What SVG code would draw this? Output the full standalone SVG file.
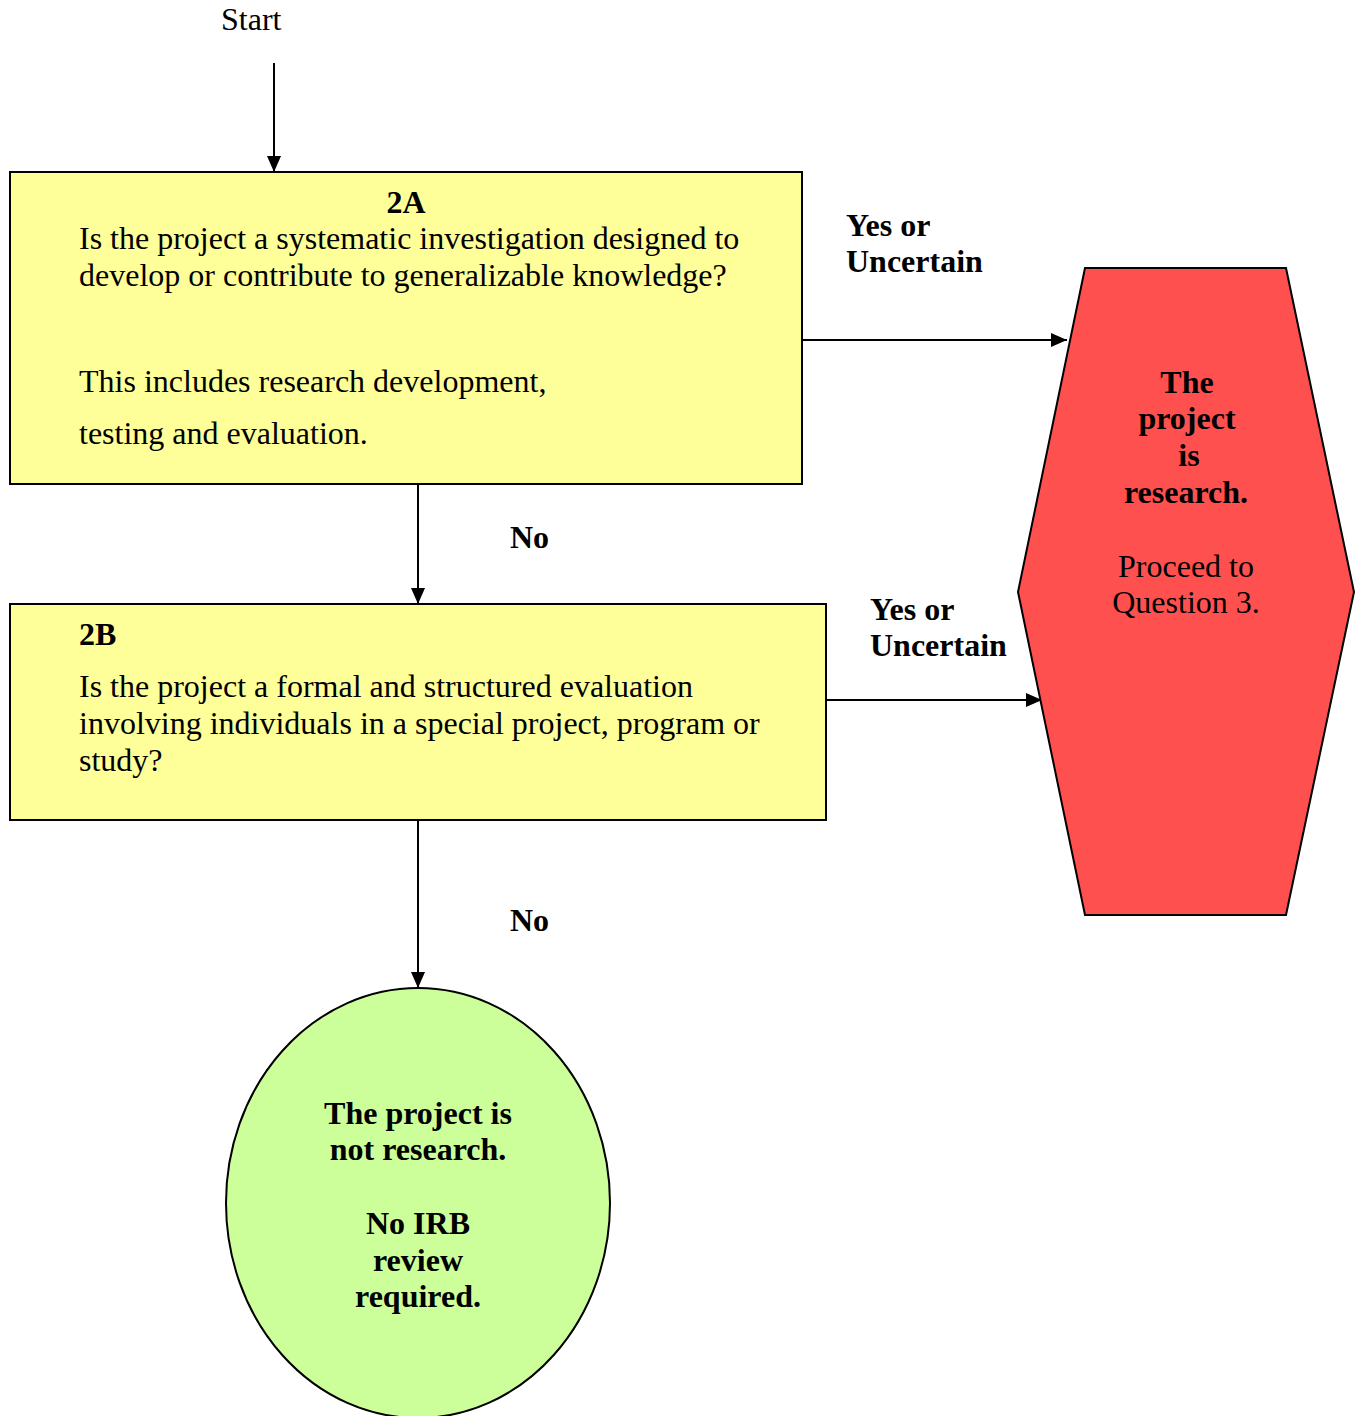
<svg xmlns="http://www.w3.org/2000/svg" width="1359" height="1416" viewBox="0 0 1359 1416">
<style>
text{font-family:"Liberation Serif","Times New Roman",serif;font-size:32px;fill:#000}
.b{font-weight:bold}
.m{text-anchor:middle}
.shape{stroke:#000;stroke-width:2}
.edge{stroke:#000;stroke-width:2;fill:none;marker-end:url(#ah)}
</style>
<defs>
<marker id="ah" markerUnits="userSpaceOnUse" markerWidth="16" markerHeight="14" refX="16" refY="7" orient="auto">
<path d="M0,0 L16,7 L0,14 Z" fill="#000"/>
</marker>
</defs>
<rect width="1359" height="1416" fill="#fff"/>
<g id="connectors">
<line class="edge" x1="274" y1="63" x2="274" y2="172"/>
<line class="edge" x1="802" y1="340" x2="1067" y2="340"/>
<line class="edge" x1="418" y1="484" x2="418" y2="604"/>
<line class="edge" x1="826" y1="700" x2="1042" y2="700"/>
<line class="edge" x1="418" y1="820" x2="418" y2="988"/>
</g>
<g id="labels">
<text x="221" y="30">Start</text>
<text class="b" x="846" y="236">Yes or</text>
<text class="b" x="846" y="272">Uncertain</text>
<text class="b" x="510" y="548">No</text>
<text class="b" x="870" y="620">Yes or</text>
<text class="b" x="870" y="656">Uncertain</text>
<text class="b" x="510" y="931">No</text>
</g>
<g id="node-2A">
<rect class="shape" x="10" y="172" width="792" height="312" fill="#FFFF99"/>
<text class="b m" x="406" y="213">2A</text>
<text x="79" y="249">Is the project a systematic investigation designed to</text>
<text x="79" y="286">develop or contribute to generalizable knowledge?</text>
<text x="79" y="392">This includes research development,</text>
<text x="79" y="444">testing and evaluation.</text>
</g>
<g id="node-2B">
<rect class="shape" x="10" y="604" width="816" height="216" fill="#FFFF99"/>
<text class="b" x="79" y="645">2B</text>
<text x="79" y="697">Is the project a formal and structured evaluation</text>
<text x="79" y="734">involving individuals in a special project, program or</text>
<text x="79" y="771">study?</text>
</g>
<g id="node-research">
<polygon class="shape" points="1085,268 1286,268 1354,592 1286,915 1085,915 1018,592" fill="#FF5050"/>
<text class="b m" x="1187" y="393">The</text>
<text class="b m" x="1187" y="429">project</text>
<text class="b m" x="1189" y="466">is</text>
<text class="b m" x="1186" y="503">research.</text>
<text class="m" x="1186" y="577">Proceed to</text>
<text class="m" x="1186" y="613">Question 3.</text>
</g>
<g id="node-not-research">
<ellipse class="shape" cx="418" cy="1203" rx="192" ry="215" fill="#CCFF99"/>
<text class="b m" x="418" y="1124">The project is</text>
<text class="b m" x="418" y="1160">not research.</text>
<text class="b m" x="418" y="1234">No IRB</text>
<text class="b m" x="418" y="1271">review</text>
<text class="b m" x="418" y="1307">required.</text>
</g>
</svg>
